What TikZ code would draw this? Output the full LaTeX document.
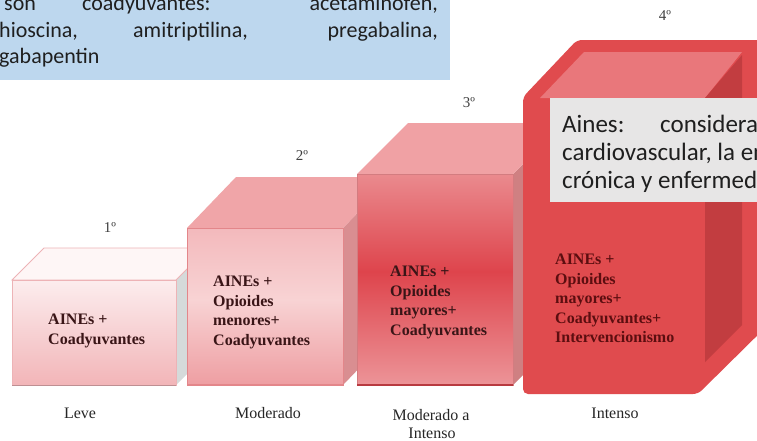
\documentclass[tikz,border=0pt]{standalone}
\usepackage{fontspec}
\setmainfont{Liberation Serif}
\newfontfamily\carl{Carlito}
\definecolor{bluebg}{HTML}{BDD7EE}
\definecolor{graybg}{HTML}{E7E6E6}
\definecolor{txtdark}{HTML}{1F1F1F}
\definecolor{boxtxtc}{HTML}{3A1517}
\definecolor{boxtxtd}{HTML}{5C0E10}
\definecolor{bAtop}{HTML}{FEF6F6}
\definecolor{bAfrontT}{HTML}{FCEDEE}
\definecolor{bAfrontB}{HTML}{F2B5B8}
\definecolor{bAedge}{HTML}{EDB3B6}
\definecolor{bAside}{HTML}{D5DADA}
\definecolor{bBtop}{HTML}{F0A5A8}
\definecolor{bBfrontT}{HTML}{F3B9BC}
\definecolor{bBfrontE}{HTML}{EE9EA2}
\definecolor{bBfrontM}{HTML}{F8D3D4}
\definecolor{bBside}{HTML}{D98E91}
\definecolor{bBedge}{HTML}{E3868A}
\definecolor{bCtop}{HTML}{F0A1A4}
\definecolor{bCfrontT}{HTML}{EA8A8E}
\definecolor{bCfrontM}{HTML}{DE444C}
\definecolor{bCfrontB}{HTML}{EC9498}
\definecolor{bCside}{HTML}{CF8082}
\definecolor{bCedge}{HTML}{B83A40}
\definecolor{bDmain}{HTML}{E04B4E}
\definecolor{bDtop}{HTML}{E9777B}
\definecolor{bDside}{HTML}{C23D40}
\begin{document}
\begin{tikzpicture}[x=1pt,y=-1pt,
  lbl/.style={font=\fontsize{16}{18}\selectfont, text=black!85, inner sep=0, anchor=base},
  num/.style={font=\fontsize{15}{17}\selectfont, text=black!75, inner sep=0, anchor=base},
  boxtxt/.style={font=\bfseries\fontsize{16}{19.5}\selectfont, text=boxtxtc, align=left, anchor=north west, inner sep=0},
  note/.style={font=\carl\fontsize{25}{28}\selectfont, text=txtdark, inner sep=0, anchor=base west},
  bluew/.style={font=\carl\fontsize{22}{26}\selectfont, text=txtdark, inner sep=0, anchor=base west},
  bluee/.style={font=\carl\fontsize{22}{26}\selectfont, text=txtdark, inner sep=0, anchor=base east}
]
\useasboundingbox (0,0) rectangle (757,440);
\clip (0,0) rectangle (757,440);
\fill[white] (0,0) rectangle (757,440);

% ---------- box 1 ----------
\fill[bAside] (176,280)--(208,248)--(208,353)--(176,385)--cycle;
\filldraw[draw=bAedge, fill=bAtop, line width=0.8pt] (12,280)--(44,248)--(208,248)--(176,280)--cycle;
\shade[top color=bAfrontT, bottom color=bAfrontB] (12,280) rectangle (176,385);
\draw[bAedge, line width=0.8pt] (12,280) rectangle (176,385);
\draw[bAedge!80!black, line width=1pt] (12,385)--(176,385);

% ---------- box 2 ----------
\fill[bBside] (343,228)--(392,177)--(392,334)--(343,385)--cycle;
\fill[bBtop] (187,228)--(236,177)--(392,177)--(343,228)--cycle;
\shade[top color=bBfrontT, bottom color=bBfrontM] (187,228) rectangle (343,300);
\shade[top color=bBfrontM, bottom color=bBfrontE] (187,299.5) rectangle (343,385);
\draw[bBedge, line width=0.6pt] (187,228) rectangle (343,385);
\draw[bBedge, line width=1.2pt] (187,385)--(343,385);

% ---------- box 3 ----------
\fill[bCside] (513,174)--(564,123)--(564,334)--(513,385)--cycle;
\fill[bCtop] (357,174)--(408,123)--(564,123)--(513,174)--cycle;
\shade[top color=bCfrontT, bottom color=bCfrontM] (357,174) rectangle (513,272);
\shade[top color=bCfrontM, bottom color=bCfrontB] (357,271.5) rectangle (513,385);
\draw[bCfrontT!90!black, line width=0.6pt] (357,174) rectangle (513,385);
\draw[bCedge, line width=1.5pt] (357,385)--(513,385);

% ---------- box 4 ----------
\fill[bDmain, rounded corners=5pt] (523,97)--(577,40)--(775,40)--(775,318)--(698,394)--(523,394)--cycle;
\fill[bDtop] (540,98)--(584,52)--(742,52)--(705,98)--cycle;
\fill[bDside] (705,98)--(742,55)--(742,325)--(705,362)--cycle;

% ---------- gray note ----------
\fill[graybg] (550,98) rectangle (775,202);
\node[note] (n1a) at (562,132) {Aines:};
\node[note] (n1b) at (660,132) {considerar};
\node[note] (n2) at (562,160) {cardiovascular, la enfermedad};
\node[note] (n3) at (562,188) {crónica y enfermedad};

% ---------- blue note ----------
\fill[bluebg] (-5,-5) rectangle (450,80);
\node[bluew] (b1a) at (4,10) {son};
\node[bluew] (b1b) at (82,10) {coadyuvantes:};
\node[bluee] (b1c) at (438,10) {acetaminofen,};
\node[bluew] (b2a) at (-1,37) {hioscina,};
\node[bluew] (b2b) at (133,37) {amitriptilina,};
\node[bluee] (b2c) at (438,37) {pregabalina,};
\node[bluew] (b3a) at (-1,63) {gabapentin};

% ---------- box texts ----------
\node[boxtxt] (t1) at (48,314) {AINEs +\\Coadyuvantes};
\node[boxtxt] (t2) at (213,276) {AINEs +\\Opioides\\menores+\\Coadyuvantes};
\node[boxtxt] (t3) at (390,266) {AINEs +\\Opioides\\mayores+\\Coadyuvantes};
\node[boxtxt, text=boxtxtd] (t4) at (555,254) {AINEs +\\Opioides\\mayores+\\Coadyuvantes+\\Intervencionismo};

% ---------- step numbers ----------
\node[num] (s1) at (110,232) {1º};
\node[num] (s2) at (302,160) {2º};
\node[num] (s3) at (469,107) {3º};
\node[num] (s4) at (665,20) {4º};

% ---------- bottom labels ----------
\node[lbl] (l1) at (80,418) {Leve};
\node[lbl] (l2) at (268,418) {Moderado};
\node[lbl] (l3a) at (431,420) {Moderado a};
\node[lbl] (l3b) at (432,438) {Intenso};
\node[lbl] (l4) at (615,418) {Intenso};
\end{tikzpicture}
\end{document}
